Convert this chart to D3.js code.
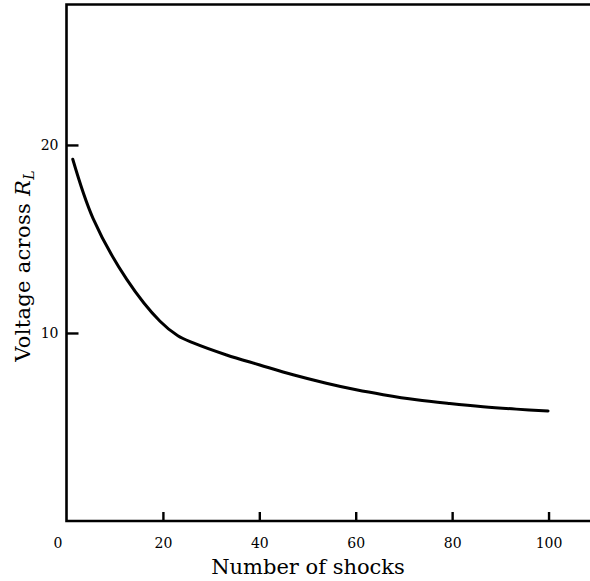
<!DOCTYPE html>
<html>
<head>
<meta charset="utf-8">
<script src="https://cdn.jsdelivr.net/npm/d3@7"></script>
<style>
  body { margin: 0; background: #fff; }
  svg { display: block; }
  .tick text, .lbl { font-family: "DejaVu Serif", "Liberation Serif", serif; font-size: 14px; fill: #000; }
  .title { font-family: "DejaVu Serif", "Liberation Serif", serif; font-size: 21px; fill: #000; }
</style>
</head>
<body>
<script>
// readings: number of shocks vs voltage across R_L
var shocks  = [1.3, 5.5, 12.5, 19.4, 23.1, 26.3, 33.2, 40.1, 47.0, 53.9, 60.1, 65.7, 72.6, 79.5, 86.4, 93.3, 99.9];
var voltage = [19.24, 16.1, 12.85, 10.62, 9.85, 9.47, 8.83, 8.30, 7.78, 7.33, 6.98, 6.72, 6.45, 6.25, 6.08, 5.95, 5.85];
var xTicks = [20, 40, 60, 80, 100];
var yTicks = [10, 20];

var w = 590, h = 581;
var mLeft = 66.5, mBottom = 521, mTop = 4.5;

var svg = d3.select("body").append("svg")
    .attr("width", w)
    .attr("height", h);

var x = d3.scaleLinear().domain([0, 108.6]).range([mLeft, w]);
var y = d3.scaleLinear().domain([0, 27.47]).range([mBottom, mTop]);

// frame: top, left and bottom (right edge runs off the page)
svg.append("path")
    .attr("d", "M" + w + "," + mTop + "H" + mLeft + "V" + mBottom + "H" + w)
    .attr("fill", "none")
    .attr("stroke", "#000")
    .attr("stroke-width", 2.6);

var xAxis = svg.append("g")
    .attr("transform", "translate(0," + mBottom + ")")
    .call(d3.axisBottom(x).tickValues(xTicks).tickSize(-9).tickPadding(17).tickFormat(d3.format("d")));
xAxis.select(".domain").remove();
xAxis.selectAll(".tick line").attr("stroke", "#000").attr("stroke-width", 2.4);

// the lone "0" sits left of the corner
svg.append("text")
    .attr("class", "lbl")
    .attr("x", 58).attr("y", mBottom + 17)
    .attr("text-anchor", "middle")
    .attr("dy", "0.71em")
    .text("0");

var yAxis = svg.append("g")
    .attr("transform", "translate(" + mLeft + ",0)")
    .call(d3.axisLeft(y).tickValues(yTicks).tickSize(-12).tickPadding(8).tickFormat(d3.format("d")));
yAxis.select(".domain").remove();
yAxis.selectAll(".tick line").attr("stroke", "#000").attr("stroke-width", 2.4);

var line = d3.line()
    .x(function(d, i) { return x(shocks[i]); })
    .y(function(d, i) { return y(voltage[i]); })
    .curve(d3.curveCatmullRom.alpha(0.5));

svg.append("path")
    .datum(shocks)
    .attr("d", line)
    .attr("fill", "none")
    .attr("stroke", "#000")
    .attr("stroke-width", 3)
    .attr("stroke-linecap", "round");

svg.append("text")
    .attr("class", "title")
    .attr("x", 308).attr("y", 574)
    .attr("text-anchor", "middle")
    .text("Number of shocks");

var yl = svg.append("text")
    .attr("class", "title")
    .attr("transform", "translate(30,266) rotate(-90)")
    .attr("text-anchor", "middle")
    .style("letter-spacing", "0.3px");
yl.append("tspan").text("Voltage across ");
yl.append("tspan").style("font-style", "italic").text("R");
yl.append("tspan").style("font-style", "italic").style("font-size", "14px").attr("dy", 4).text("L");
</script>
</body>
</html>
